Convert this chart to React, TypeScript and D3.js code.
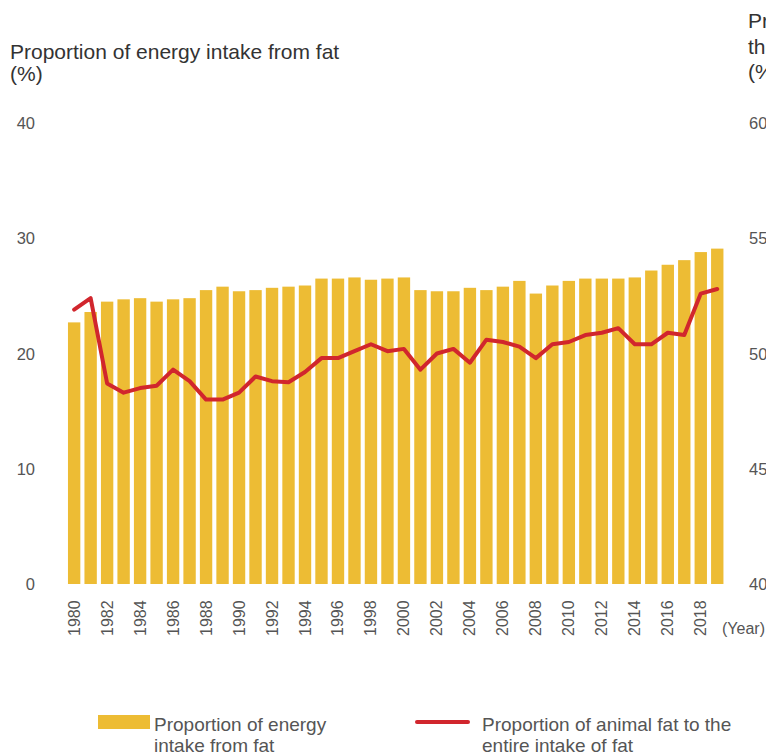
import React from "react";
import * as d3 from "d3";

const years: number[] = Array.from({ length: 40 }, (_, i) => 1980 + i);

const fatEnergyShare: number[] = [
  22.7, 23.6, 24.5, 24.7, 24.8, 24.5, 24.7, 24.8, 25.5, 25.8,
  25.4, 25.5, 25.7, 25.8, 25.9, 26.5, 26.5, 26.6, 26.4, 26.5,
  26.6, 25.5, 25.4, 25.4, 25.7, 25.5, 25.8, 26.3, 25.2, 25.9,
  26.3, 26.5, 26.5, 26.5, 26.6, 27.2, 27.7, 28.1, 28.8, 29.1,
];

const animalFatShare: number[] = [
  51.9, 52.4, 48.7, 48.3, 48.5, 48.6, 49.3, 48.8, 48.0, 48.0,
  48.3, 49.0, 48.8, 48.75, 49.2, 49.8, 49.8, 50.1, 50.4, 50.1,
  50.2, 49.3, 50.0, 50.2, 49.6, 50.6, 50.5, 50.3, 49.8, 50.4,
  50.5, 50.8, 50.9, 51.1, 50.4, 50.4, 50.9, 50.8, 52.6, 52.8,
];

const leftTicks: number[] = [0, 10, 20, 30, 40];
const rightTicks: number[] = [40, 45, 50, 55, 60];
const yearLabels: number[] = years.filter((y) => y % 2 === 0);

const leftTitle: string[] = ["Proportion of energy intake from fat", "(%)"];
const rightTitle: string[] = ["Proportion of animal fat to", "the entire intake of fat", "(%)"];
const legendBarText: string[] = ["Proportion of energy", "intake from fat"];
const legendLineText: string[] = ["Proportion of animal fat to the", "entire intake of fat"];

const W = 766;
const H = 756;
const BAR = "#EDBC34";
const RED = "#D1262D";
const FONT = "'Liberation Sans', Arial, sans-serif";

export default function App() {
  const x = d3
    .scaleBand<number>()
    .domain(years)
    .range([65.9, 725.5])
    .paddingInner(0.25)
    .paddingOuter(0.125);
  const yL = d3.scaleLinear().domain([0, 40]).range([584, 123]);
  const yR = d3.scaleLinear().domain([40, 60]).range([584, 123]);

  const line = d3
    .line<number>()
    .x((_, i) => (x(years[i]) as number) + x.bandwidth() / 2)
    .y((d) => yR(d));

  return (
    <svg
      width={W}
      height={H}
      style={{ position: "absolute", left: 0, top: 0, background: "#fff" }}
      fontFamily={FONT}
    >
      {/* left title */}
      {leftTitle.map((t, i) => (
        <text key={t} x={10} y={59 + i * 22} fontSize={21} fill="#333">
          {t}
        </text>
      ))}
      {/* right title (clipped at edge) */}
      {rightTitle.map((t, i) => (
        <text key={t} x={748} y={28 + i * 25.5} fontSize={21} fill="#333">
          {t}
        </text>
      ))}

      {/* left ticks */}
      {leftTicks.map((v) => (
        <text
          key={"l" + v}
          x={35}
          y={yL(v)}
          fontSize={16.5}
          fill="#555"
          textAnchor="end"
          dominantBaseline="central"
        >
          {v}
        </text>
      ))}
      {/* right ticks */}
      {rightTicks.map((v) => (
        <text
          key={"r" + v}
          x={749}
          y={yR(v)}
          fontSize={16.5}
          fill="#555"
          dominantBaseline="central"
        >
          {v}
        </text>
      ))}

      {/* bars */}
      {fatEnergyShare.map((v, i) => (
        <rect
          key={years[i]}
          x={x(years[i])}
          y={yL(v)}
          width={x.bandwidth()}
          height={yL(0) - yL(v)}
          fill={BAR}
        />
      ))}

      {/* line */}
      <path
        d={line(animalFatShare) || ""}
        fill="none"
        stroke={RED}
        strokeWidth={4}
        strokeLinejoin="round"
        strokeLinecap="round"
      />

      {/* year labels */}
      {yearLabels.map((yr) => {
        const cx = (x(yr) as number) + x.bandwidth() / 2;
        return (
          <text
            key={"y" + yr}
            transform={`translate(${cx},636) rotate(-90)`}
            fontSize={16}
            fill="#555"
            dominantBaseline="central"
          >
            {yr}
          </text>
        );
      })}
      <text x={722} y={628} fontSize={16} fill="#555" dominantBaseline="central">
        (Year)
      </text>

      {/* legend */}
      <rect x={98} y={715} width={52} height={14} fill={BAR} />
      {legendBarText.map((t, i) => (
        <text key={t} x={154} y={731 + i * 21} fontSize={19} fill="#555">
          {t}
        </text>
      ))}
      <line x1={417} x2={468} y1={722} y2={722} stroke={RED} strokeWidth={4} strokeLinecap="round" />
      {legendLineText.map((t, i) => (
        <text key={t} x={482} y={731 + i * 21} fontSize={19} fill="#555">
          {t}
        </text>
      ))}
    </svg>
  );
}
